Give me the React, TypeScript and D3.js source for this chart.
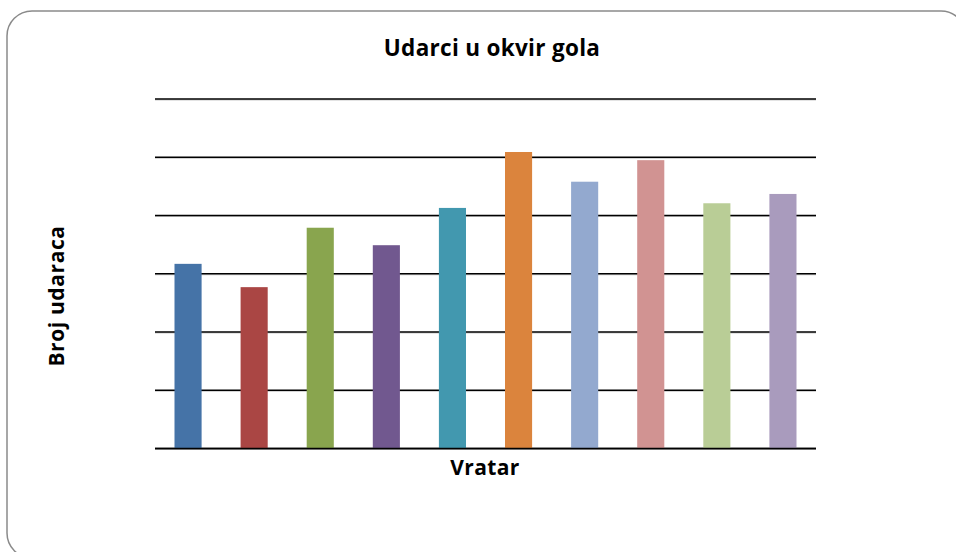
import React from "react";
import * as d3 from "d3";

const keepers = ["V1", "V2", "V3", "V4", "V5", "V6", "V7", "V8", "V9", "V10"];
const shots = [31.7, 27.7, 37.9, 34.9, 41.3, 50.9, 45.8, 49.5, 42.1, 43.7];
const colors = ["#4573a7", "#aa4644", "#89a54e", "#71588f", "#4298af", "#db843d", "#93a9cf", "#d19392", "#b9cd96", "#a99bbd"];
const yTicks = [0, 10, 20, 30, 40, 50, 60];

const W = 956;
const H = 552;
const left = 155;
const right = 816;
const top = 99;
const bottom = 448.5;

export default function App() {
  const x = d3.scaleBand<string>().domain(keepers).range([left, right]).paddingInner(0.59).paddingOuter(0.295);
  const y = d3.scaleLinear().domain([0, 60]).range([bottom, top]);
  const font = "'Open Sans', sans-serif";
  return (
    <svg width={W} height={H} style={{ position: "absolute", left: 0, top: 0, display: "block" }}>
      <rect x={7} y={11} width={959} height={547} rx={25} ry={25} fill="#fff" stroke="#8a8a8a" strokeWidth={1.5} />
      <text x={492} y={56} textAnchor="middle" fontFamily={font} fontWeight={700} fontSize={22.5} letterSpacing={0.3} fill="#000">
        Udarci u okvir gola
      </text>
      {yTicks.map((t) => (
        <g key={t}>
          <line x1={left} x2={right} y1={y(t) + 1} y2={y(t) + 1} stroke="#c8c8c8" strokeWidth={1} />
          <line x1={left} x2={right} y1={y(t)} y2={y(t)} stroke="#000" strokeWidth={1.6} />
        </g>
      ))}
      {keepers.map((k, i) => (
        <rect key={k} x={x(k)} y={y(shots[i])} width={x.bandwidth()} height={bottom - y(shots[i])} fill={colors[i]} />
      ))}
      <line x1={left} x2={right} y1={bottom} y2={bottom} stroke="#000" strokeWidth={1.6} />
      <text x={485} y={475} textAnchor="middle" fontFamily={font} fontWeight={700} fontSize={21} letterSpacing={0.4} fill="#000">
        Vratar
      </text>
      <text transform="translate(63.5,296) rotate(-90)" textAnchor="middle" fontFamily={font} fontWeight={700} fontSize={21} letterSpacing={0.6} fill="#000">
        Broj udaraca
      </text>
    </svg>
  );
}
